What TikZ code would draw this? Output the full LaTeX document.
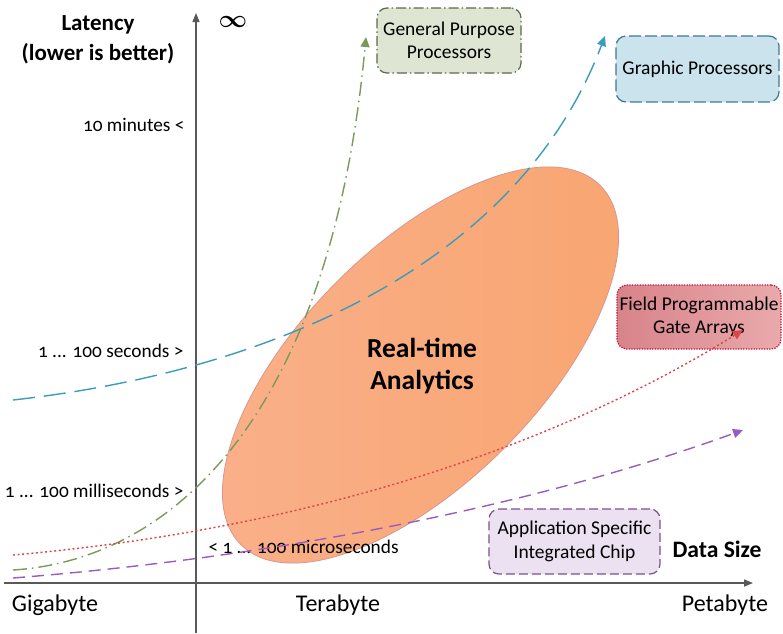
\documentclass[tikz,border=0pt]{standalone}
\usepackage{fontspec}
\setmainfont{Carlito}
\usetikzlibrary{arrows.meta}
\definecolor{axisgray}{HTML}{595959}
\definecolor{gpuline}{HTML}{3A9BBD}
\definecolor{cpuline}{HTML}{7A9A5C}
\definecolor{fpgaline}{HTML}{D9464B}
\definecolor{asicline}{HTML}{9A5BBE}
\definecolor{cpufill}{HTML}{DEE6D3}
\definecolor{cpuedge}{HTML}{5C6B47}
\definecolor{gpufill}{HTML}{CAE3EC}
\definecolor{gpuedge}{HTML}{3F7A8F}
\definecolor{fpgafillA}{HTML}{D8838A}
\definecolor{fpgafillB}{HTML}{E9AAAC}
\definecolor{fpgaedge}{HTML}{C8102E}
\definecolor{asicfill}{HTML}{ECE1F1}
\definecolor{asicedge}{HTML}{7C4F90}
\definecolor{blobA}{HTML}{FAB08A}
\definecolor{blobB}{HTML}{F8A570}
\definecolor{blobedge}{HTML}{D9968F}
\tikzset{
  axis/.style={draw=axisgray, line width=1.3pt, -{Triangle[length=9pt,width=7pt]}},
  tick/.style={font=\fontsize{19.3}{22}\selectfont\addfontfeatures{Numbers=OldStyle}},
  scale label/.style={font=\fontsize{24}{28}\selectfont},
  title/.style={font=\bfseries\fontsize{23}{30}\selectfont, align=center},
  techbox/.style={rounded corners=10pt, line width=1.2pt, align=center,
    font=\fontsize{19.5}{23.5}\selectfont, inner sep=0pt},
  trend/.style={line width=1.4pt, -{Triangle[length=10pt,width=9pt]}},
}
\begin{document}
\begin{tikzpicture}[x=1pt, y=-1pt]
\useasboundingbox (0,0) rectangle (783,633);

% the application region
\shade[left color=blobA, right color=blobB, draw=blobedge, line width=0.8pt, rotate around={45:(420.5,365)}]
  (420.5,365) ellipse [x radius=254pt, y radius=118pt];
\node[font=\bfseries\fontsize{27.5}{32}\selectfont, align=center] (rta) at (422,366) {Real-time\\Analytics};

% axes
\coordinate (yb) at (196,633);
\coordinate (yt) at (196,13);
\coordinate (xl) at (4,583);
\coordinate (xr) at (753,583);
\draw[axis] (yb) -- (yt);
\draw[axis] (xl) -- (xr);

% axis titles and scale labels
\node[title] (lat) at (98,40) {Latency\\(lower is better)};
\node[font=\fontsize{42}{44}\selectfont\boldmath] (inf) at (233,22) {$\infty$};
\node[font=\bfseries\fontsize{23.6}{26}\selectfont] (ds) at (717,549) {Data Size};
\node[scale label] (gb) at (55,605) {Gigabyte};
\node[scale label] (tb) at (338,605) {Terabyte};
\node[scale label] (pb) at (725,605) {Petabyte};

\node[tick, anchor=east] (l1) at (188,125) {10 minutes <};
\node[tick, anchor=east] (l2) at (187,351) {1 ... 100 seconds >};
\node[tick, anchor=east] (l3) at (187,491) {1 ... 100 milliseconds >};
\node[tick, anchor=west] (l4) at (205,547) {< 1 ... 100 microseconds};

% technology boxes
\node[techbox, fill=cpufill, draw=cpuedge, dash pattern=on 10pt off 3pt on 1.5pt off 3pt,
  minimum width=144pt, minimum height=65pt] (cpu) at (449,40.5) {General Purpose\\Processors};
\node[techbox, fill=gpufill, draw=gpuedge, dash pattern=on 12pt off 4pt,
  minimum width=163pt, minimum height=66pt] (gpu) at (697.5,69) {Graphic Processors};
\node[techbox, left color=fpgafillA, right color=fpgafillB, draw=fpgaedge, dash pattern=on 1.3pt off 1.3pt,
  minimum width=164pt, minimum height=64pt] (fpga) at (699,317) {Field Programmable\\Gate Arrays};
\node[techbox, fill=asicfill, draw=asicedge, dash pattern=on 9pt off 4pt,
  minimum width=171pt, minimum height=65pt] (asic) at (574.5,541.5) {Application Specific\\Integrated Chip};

% trend curves
\coordinate (gpuS) at (13,400);
\coordinate (gpuE) at (605,36);
\coordinate (cpuS) at (13,570);
\coordinate (cpuE) at (366,37);
\coordinate (fpgaS) at (13,555);
\coordinate (fpgaE) at (743,330);
\coordinate (asicS) at (13,578);
\coordinate (asicE) at (743,430);

\draw[trend, gpuline, dash pattern=on 22pt off 9pt]
  (gpuS) .. controls (280,370) and (520,260) .. (gpuE);
\draw[trend, cpuline, dash pattern=on 14pt off 5pt on 1.5pt off 5pt]
  (cpuS) .. controls (170,560) and (330,420) .. (cpuE);
\draw[trend, fpgaline, dash pattern=on 2pt off 2.6pt]
  (fpgaS) .. controls (300,530) and (550,450) .. (fpgaE);
\draw[trend, asicline, dash pattern=on 12pt off 7pt]
  (asicS) .. controls (300,555) and (550,500) .. (asicE);
\end{tikzpicture}
\end{document}
